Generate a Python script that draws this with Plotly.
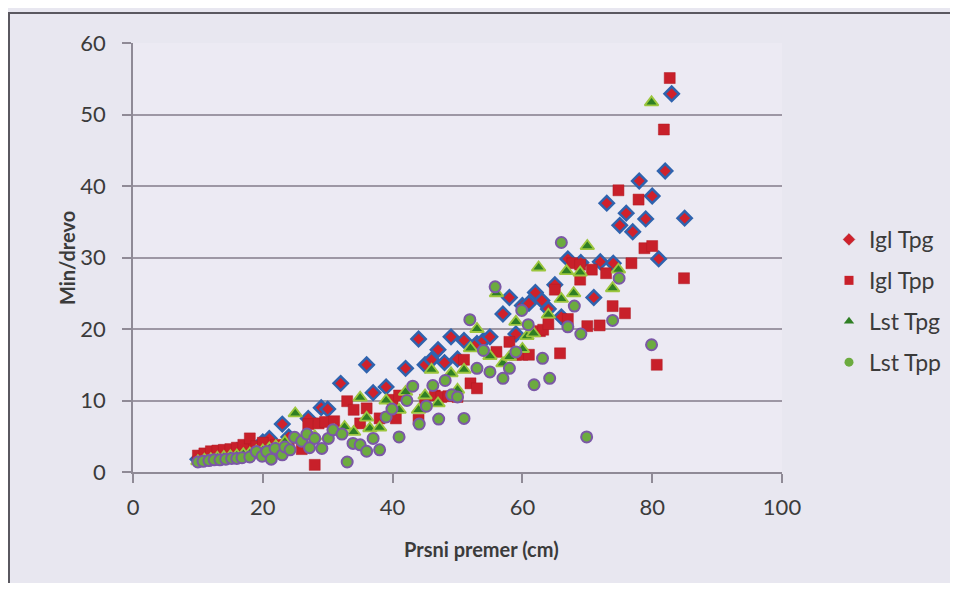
import plotly.graph_objects as go

# ---- data ----
igl_tpg_x = [10, 12, 14, 16, 18, 20, 21, 23, 24, 27, 29, 30, 32, 36, 37, 39, 42, 44, 45, 46, 47, 48, 49, 50,
             51, 53, 54, 55, 57, 58, 59, 60, 61, 62, 63, 64, 65, 66, 67, 69, 71, 72, 73, 74, 75, 76, 77, 78,
             79, 80, 81, 82, 83, 85]
igl_tpg_y = [1.8, 2.2, 2.6, 3.0, 3.4, 4.2, 4.7, 6.7, 4.9, 7.5, 9.0, 8.8, 12.4, 15.0, 11.1, 11.9, 14.5, 18.6,
             15.0, 15.7, 17.1, 15.3, 18.9, 15.8, 18.4, 18.0, 18.4, 18.9, 22.1, 24.4, 19.3, 23.3, 23.6, 25.1,
             24.0, 22.8, 26.2, 21.7, 29.8, 29.3, 24.4, 29.4, 37.6, 29.2, 34.5, 36.2, 33.6, 40.7, 35.4, 38.6,
             29.8, 42.1, 52.9, 35.5]

igl_tpp_x = [10, 11, 12, 13, 14, 15, 16, 17, 18, 19, 20, 22, 24, 26, 27, 28, 28.6, 29.6, 31, 33, 34, 35, 36,
             38, 40, 40.5, 41, 44, 45, 46.5, 47.5, 48.6, 50, 51, 52, 53, 56, 58, 59, 60, 61, 62.7, 63.2, 64,
             65, 65.8, 67, 67.7, 68.9, 68.9, 70, 70.7, 71.9, 72.9, 73.9, 74.8, 75.8, 76.8, 77.9, 78.8, 80,
             80.7, 81.8, 82.7, 84.9]
igl_tpp_y = [2.3, 2.6, 2.9, 3.0, 3.1, 3.2, 3.4, 3.8, 4.7, 3.6, 4.1, 3.8, 3.5, 3.2, 6.7, 1.0, 6.8, 7.0, 7.1,
             9.9, 8.7, 6.8, 8.9, 7.5, 10.1, 7.5, 10.7, 7.3, 10.1, 10.7, 10.5, 10.6, 10.5, 15.7, 12.4, 11.7,
             16.8, 18.2, 16.4, 16.4, 16.4, 19.7, 19.9, 20.7, 25.5, 16.6, 21.4, 29.2, 29.0, 26.9, 20.4, 28.3,
             20.5, 27.8, 23.2, 39.4, 22.2, 29.2, 38.1, 31.3, 31.6, 15.0, 47.9, 55.1, 27.1]

lst_tpg_x = [10, 11, 12, 13, 14, 15, 16, 17, 18, 19, 20, 21, 22, 23.4, 25, 26, 28, 31, 32.6, 34, 35, 36,
             36.5, 38, 39, 41, 42, 44, 45, 46, 47, 49, 50, 51, 52, 53, 55, 56, 57, 58, 59, 60, 60.7, 61.7,
             62.5, 64, 66, 66.8, 67.9, 68.9, 70, 73.9, 74.8, 79.9]
lst_tpg_y = [1.5, 1.7, 1.8, 2.0, 2.1, 2.2, 2.3, 2.5, 2.6, 2.9, 3.0, 3.3, 3.6, 4.2, 8.2, 4.5, 5.0, 5.8, 6.3,
             5.6, 10.4, 7.6, 6.1, 6.2, 10.0, 8.7, 11.2, 8.7, 10.7, 14.3, 9.6, 13.8, 11.5, 14.3, 17.3, 20.0,
             16.2, 25.0, 15.2, 16.1, 21.0, 17.2, 19.0, 19.4, 28.6, 22.0, 24.2, 28.1, 25.0, 27.9, 31.6, 25.7,
             28.3, 51.7]

lst_tpp_x = [10, 10.8, 11.7, 12.5, 13.4, 14.3, 15.2, 16, 16.8, 18, 19, 19.9, 20.6, 21.3, 21.9, 23, 23.4,
             24.2, 24.9, 26, 26.8, 27.2, 28, 29.1, 30.1, 30.8, 32.2, 33, 33.9, 35, 36, 37, 38, 39, 39.9, 41,
             42.2, 43.1, 44.1, 45.2, 46.2, 47.1, 48.1, 49.1, 50, 51, 51.9, 53, 54, 55, 55.8, 57, 58, 59,
             59.9, 60.9, 61.8, 63.1, 64.2, 66, 67, 68, 69, 69.9, 73.9, 74.9, 79.9]
lst_tpp_y = [1.4, 1.5, 1.6, 1.7, 1.7, 1.8, 1.9, 1.9, 2.0, 2.1, 2.85, 2.2, 2.85, 1.8, 3.3, 2.4, 3.5, 3.1,
             4.85, 4.3, 5.3, 3.4, 4.7, 3.3, 4.7, 5.9, 5.3, 1.4, 4.0, 3.8, 2.9, 4.7, 3.1, 7.7, 8.8, 4.9, 10.0,
             12.0, 6.7, 9.2, 12.1, 7.4, 12.8, 10.8, 10.5, 7.5, 21.3, 14.5, 17.0, 14.0, 25.9, 13.1, 14.5, 16.8,
             22.6, 20.6, 12.2, 15.9, 13.1, 32.1, 20.3, 23.2, 19.3, 4.9, 21.2, 27.1, 17.8]

series_names = ["Igl Tpg", "Igl Tpp", "Lst Tpg", "Lst Tpp"]
x_ticks = [0, 20, 40, 60, 80, 100]
y_ticks = [0, 10, 20, 30, 40, 50, 60]
x_title = "Prsni premer (cm)"
y_title = "Min/drevo"

FONT = "Lato"
TXT = "#3b3b3b"

styles = [
    dict(symbol="diamond", size=11, color="#d0212b", line=dict(color="#2f63ae", width=2.5)),
    dict(symbol="square", size=11, color="#c8202a", line=dict(color="#b01a22", width=0.5)),
    dict(symbol="triangle-up", size=12, color="#2f7f24", line=dict(color="#9cc63e", width=1.8)),
    dict(symbol="circle", size=11, color="#6cab3f", line=dict(color="#7b58a6", width=2)),
]
legend_styles = [
    dict(symbol="diamond", size=9, color="#d0212b", line=dict(color="#a01820", width=0.5)),
    dict(symbol="square", size=9, color="#c8202a", line=dict(width=0)),
    dict(symbol="triangle-up", size=9, color="#2f7f24", line=dict(width=0)),
    dict(symbol="circle", size=9, color="#6cab3f", line=dict(width=0)),
]
data = [(igl_tpg_x, igl_tpg_y), (igl_tpp_x, igl_tpp_y), (lst_tpg_x, lst_tpg_y), (lst_tpp_x, lst_tpp_y)]

fig = go.Figure()
for name, (xs, ys), st in zip(series_names, data, styles):
    fig.add_trace(go.Scatter(x=xs, y=ys, mode="markers", name=name, marker=st,
                             showlegend=False, legendgroup=name))
for name, st in zip(series_names, legend_styles):
    fig.add_trace(go.Scatter(x=[None], y=[None], mode="markers", name=name, marker=st,
                             showlegend=True, legendgroup=name))

# figure fits inside the page (8px body margin on each side)
W, H = 942, 575

# page pixel -> paper coords
def px2x(p):
    return (p - 133) / 649.0
def py2y(p):
    return (472 - p) / 429.0

fig.add_shape(type="line", xref="paper", yref="paper", x0=px2x(8), x1=px2x(960), y0=py2y(13), y1=py2y(13),
              line=dict(color="#5a5860", width=2))
fig.add_shape(type="line", xref="paper", yref="paper", x0=px2x(9), x1=px2x(9), y0=py2y(13), y1=py2y(600),
              line=dict(color="#5a5860", width=2))

fig.add_annotation(text="<b>" + x_title + "</b>", xref="paper", yref="paper",
                   x=px2x(481), y=py2y(549), xanchor="center", yanchor="middle", showarrow=False,
                   font=dict(size=20, family=FONT, color=TXT))
fig.add_annotation(text="<b>" + y_title + "</b>", xref="paper", yref="paper", textangle=-90,
                   x=px2x(67), y=py2y(258), xanchor="center", yanchor="middle", showarrow=False,
                   font=dict(size=20, family=FONT, color=TXT))

fig.update_layout(
    width=W, height=H,
    margin=dict(l=125, r=W - (782 - 8), t=35, b=H - (472 - 8), autoexpand=False),
    paper_bgcolor="#e8e7f0",
    plot_bgcolor="#eceaf3",
    font=dict(family=FONT, color=TXT, size=18),
    legend=dict(xref="container", yref="container",
                x=(829 - 8) / W, y=1 - (218 - 8) / H, xanchor="left", yanchor="top",
                bgcolor="rgba(0,0,0,0)", font=dict(size=23, family=FONT, color=TXT),
                tracegroupgap=8, itemwidth=30),
    xaxis=dict(range=[0, 100], tickvals=x_ticks, ticktext=[str(v) for v in x_ticks],
               showgrid=False, zeroline=False, showline=True, linecolor="#8f8a96", linewidth=1.5,
               ticks="outside", ticklen=9, tickcolor="#8f8a96", tickwidth=1.5,
               tickfont=dict(size=22, family=FONT, color=TXT), ticklabelstandoff=6),
    yaxis=dict(range=[0, 60], tickvals=y_ticks, ticktext=[str(v) for v in y_ticks],
               showgrid=True, gridcolor="#9d97a4", gridwidth=1.5, zeroline=False,
               showline=True, linecolor="#8f8a96", linewidth=1.5,
               ticks="outside", ticklen=9, tickcolor="#8f8a96", tickwidth=1.5,
               tickfont=dict(size=22, family=FONT, color=TXT), ticklabelstandoff=12),
)

fig.write_html("out.html")
